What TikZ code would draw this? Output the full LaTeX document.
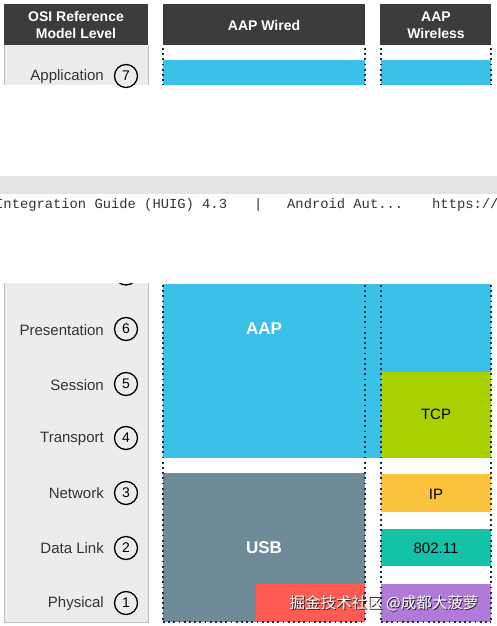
\documentclass[tikz,border=0pt]{standalone}
\usepackage{fontspec}
\setmainfont{Liberation Sans}
\newfontfamily\monofont{Liberation Mono}
\newfontfamily\cjkfont{Noto Sans CJK SC}
\definecolor{hdrgray}{HTML}{3C3C3C}
\definecolor{colgray}{HTML}{ECECEC}
\definecolor{colline}{HTML}{BDBDBD}
\definecolor{aapblue}{HTML}{3BC0E8}
\definecolor{tcpgreen}{HTML}{A9D000}
\definecolor{usbgray}{HTML}{6F8B98}
\definecolor{ipyellow}{HTML}{FCC43C}
\definecolor{wifiteal}{HTML}{14C2A8}
\definecolor{lilac}{HTML}{B07BD8}
\definecolor{wmred}{HTML}{FF5B52}
\definecolor{dotblue}{HTML}{1B2A45}
\definecolor{bandgray}{HTML}{E3E3E3}
\definecolor{lbltext}{HTML}{333333}
\tikzset{
  hdrtext/.style={text=white, align=center, font=\bfseries\fontsize{14}{17}\selectfont, inner sep=0pt},
  lvl/.style={anchor=east, text=lbltext, font=\fontsize{15}{17}\selectfont, inner sep=0pt},
  num/.style={circle, draw=black, line width=1.3pt, minimum size=23pt, inner sep=0pt, font=\fontsize{14}{14}\selectfont},
  dots/.style={draw=dotblue, line width=1.8pt, dash pattern=on 1.8pt off 3.4pt},
  boxlbl/.style={font=\fontsize{15}{17}\selectfont, inner sep=0pt},
  biglbl/.style={text=white, font=\bfseries\fontsize{17}{19}\selectfont, inner sep=0pt},
  monotxt/.style={anchor=base west, text=lbltext, font=\monofont\fontsize{13.8}{15}\selectfont, inner sep=0pt},
  wm/.style={font=\cjkfont\fontsize{15.5}{17}\selectfont, inner sep=0pt}
}
\begin{document}
\begin{tikzpicture}[x=1pt,y=-1pt]
\useasboundingbox (0,0) rectangle (497,626);
\fill[white] (0,0) rectangle (497,626);
% ---------- top part ----------
\fill[hdrgray] (4,4) rectangle (148,45);
\fill[hdrgray] (163,4) rectangle (365,45);
\fill[hdrgray] (380,4) rectangle (491,45);
\node[hdrtext] (hosi) at (76,25) {OSI Reference\\Model Level};
\node[hdrtext] (hwired) at (264,25) {AAP Wired};
\node[hdrtext] (hwless) at (436,25) {AAP\\Wireless};
\fill[colgray] (4,45) rectangle (148,85);
\draw[colline, line width=0.8pt] (4,45) -- (4,85) (148,45) -- (148,85);
\node[lvl] (l7) at (104,77) {Application};
\node[num] (n7) at (126,76) {7};
\fill[aapblue] (163,60) rectangle (365,85);
\fill[aapblue] (381,60) rectangle (491,85);
\foreach \xx in {163,365,381,491} \draw[dots] (\xx,48) -- (\xx,85);
% ---------- middle band ----------
\fill[bandgray] (0,176) rectangle (497,194);
\node[monotxt] (m1) at (-5,208) {Integration Guide (HUIG) 4.3};
\node[monotxt] (m2) at (254,208) {|};
\node[monotxt] (m3) at (287,208) {Android Aut...};
\node[monotxt] (m4) at (432,208) {https://};
% ---------- bottom part ----------
\fill[colgray] (4,283) rectangle (148,622);
\draw[colline, line width=0.8pt] (4,283) -- (4,622) -- (148,622) -- (148,283);
\begin{scope}
\clip (100,283) rectangle (150,300);
\node[num] (n7b) at (126,273.5) {};
\end{scope}
\node[lvl] (l6) at (104,330) {Presentation};
\node[num] (n6) at (126,329) {6};
\node[lvl] (l5) at (104,385) {Session};
\node[num] (n5) at (126,384) {5};
\node[lvl] (l4) at (104,439) {Transport};
\node[num] (n4) at (126,438) {4};
\node[lvl] (l3) at (104,493) {Network};
\node[num] (n3) at (126,493) {3};
\node[lvl] (l2) at (104,548) {Data Link};
\node[num] (n2) at (126,548) {2};
\node[lvl] (l1) at (104,604) {Physical};
\node[num] (n1) at (126,603) {1};
% blocks
\fill[aapblue] (163,284) rectangle (491,458);
\fill[tcpgreen] (381,372) rectangle (491,458);
\fill[usbgray] (163,473) rectangle (365,622);
\fill[ipyellow] (381,474) rectangle (491,512);
\fill[wifiteal] (381,529) rectangle (491,566);
\fill[lilac] (381,584) rectangle (491,622);
\fill[wmred] (256,584) rectangle (365,622);
\node[biglbl] (aap) at (264,329) {AAP};
\node[boxlbl] (tcp) at (436,414) {TCP};
\node[biglbl] (usb) at (264,548) {USB};
\node[boxlbl] (ip) at (436,494) {IP};
\node[boxlbl] (wifi) at (436,548) {802.11};
\foreach \xx in {163,365,381,491} \draw[dots] (\xx,285) -- (\xx,622);
\draw[dots] (163,622) -- (365,622);
\draw[dots] (381,622) -- (491,622);
% watermark
\node[wm, text=black!85] (wmshadow) at (385,603.9) {掘金技术社区 @成都大菠萝};
\node[wm, text=white] (wmark) at (384,603) {掘金技术社区 @成都大菠萝};
\end{tikzpicture}
\end{document}
